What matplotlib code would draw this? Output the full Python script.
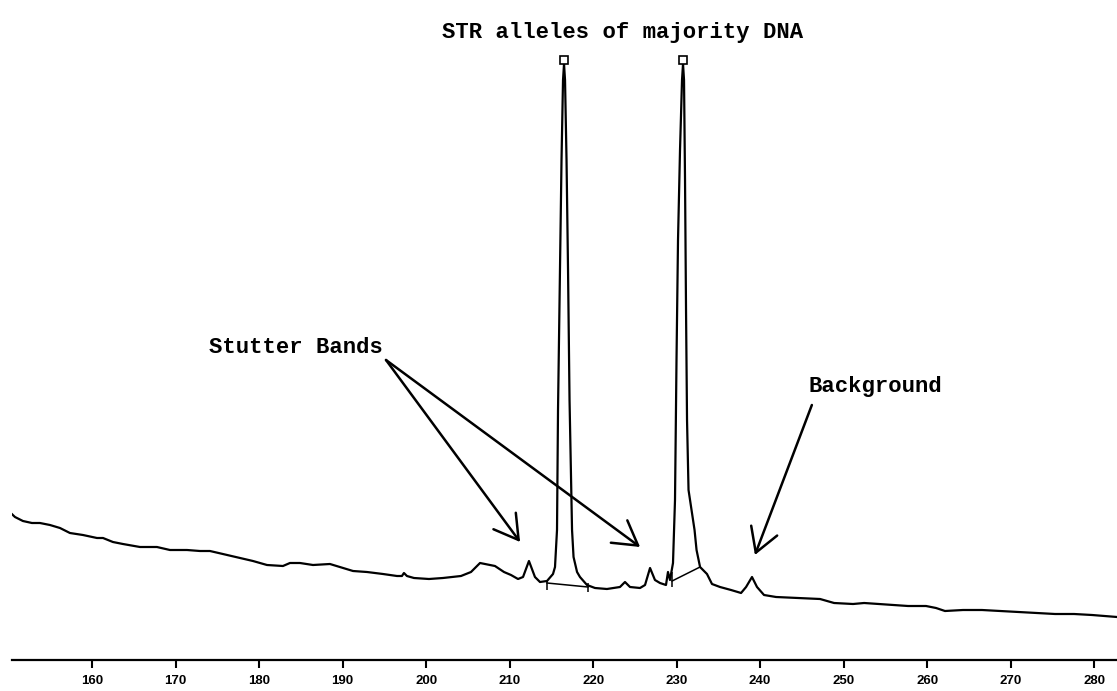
"""Electropherogram: STR alleles of majority DNA, with stutter and background marked."""

import matplotlib

matplotlib.use("Agg")
import matplotlib.pyplot as plt

# fragment size (bp) and signal (arbitrary units)
trace_bp = [
    150.39, 150.77, 151.72, 152.80, 153.76, 154.96, 156.16, 157.35, 158.91, 160.59,
    161.31, 162.50, 163.70, 165.74, 167.77, 169.33, 171.37, 172.92, 174.12, 175.68,
    177.72, 179.27, 180.95, 182.86, 183.70, 184.90, 186.46, 188.49, 189.69, 191.25,
    192.92, 194.84, 196.52, 197.11, 197.35, 197.71, 198.55, 200.35, 202.02, 204.18,
    205.38, 206.46, 208.25, 209.33, 210.17, 211.01, 211.61, 212.32, 213.04, 213.64,
    214.48, 215.20, 215.44, 215.68, 215.80, 216.04, 216.22, 216.40, 216.52, 216.64,
    216.82, 217.00, 217.18, 217.36, 217.48, 217.66, 218.08, 218.43, 219.27, 220.23,
    221.66, 223.22, 223.82, 224.42, 225.62, 226.22, 226.82, 227.41, 228.01, 228.73,
    228.97, 229.21, 229.57, 229.81, 229.99, 230.17, 230.41, 230.65, 230.77, 230.89,
    231.01, 231.13, 231.25, 231.43, 231.79, 232.15, 232.39, 232.81, 233.64, 234.24,
    235.20, 236.52, 237.72, 238.32, 239.03, 239.63, 240.47, 241.91, 244.54, 247.18,
    248.86, 251.13, 252.46, 254.24, 255.92, 257.72, 259.87, 261.07, 262.14, 264.30,
    266.57, 268.73, 270.89, 273.16, 275.32, 277.60, 279.75, 282.74,
]
trace_signal = [
    146, 143, 139, 137, 137, 135, 132, 127, 125, 122,
    122, 118, 116, 113, 113, 110, 110, 109, 109, 106,
    102, 99, 95, 94, 97, 97, 95, 96, 93, 89,
    88, 86, 84, 84, 87, 84, 82, 81, 82, 84,
    88, 97, 94, 88, 85, 81, 83, 99, 83, 78,
    79, 86, 93, 130, 250, 390, 500, 580, 596, 580,
    500, 390, 260, 180, 130, 103, 88, 83, 75, 72,
    71, 73, 78, 73, 72, 75, 92, 80, 77, 75,
    88, 80, 97, 160, 300, 420, 510, 580, 596, 580,
    480, 350, 240, 170, 150, 130, 110, 93, 86, 76,
    73, 70, 67, 73, 83, 73, 65, 63, 62, 61,
    57, 56, 57, 56, 55, 54, 54, 52, 49, 50,
    50, 49, 48, 47, 46, 46, 45, 43,
]

# called alleles (peak markers)
allele_bp = [216.52, 230.77]
allele_signal = [600, 600]

# peak baselines drawn by the analysis software
base1_bp = [214.48, 219.39]
base1_signal = [77, 73]
base2_bp = [229.46, 232.81]
base2_signal = [79, 93]
base_tick_bp = [214.48, 219.39, 229.46]
base_tick_lo = [70, 68, 73]
base_tick_hi = [80, 77, 88]

tick_values = [160, 170, 180, 190, 200, 210, 220, 230, 240, 250, 260, 270, 280]

fig = plt.figure(figsize=(11.17, 6.91), dpi=100)
ax = fig.add_axes([11.8 / 1117, 31 / 691, 1 - 11.8 / 1117, 660 / 691])

ax.plot(trace_bp, trace_signal, color="black", lw=1.6, solid_joinstyle="round")
ax.plot(base1_bp, base1_signal, color="black", lw=1.1)
ax.plot(base2_bp, base2_signal, color="black", lw=1.1)
ax.vlines(base_tick_bp, base_tick_lo, base_tick_hi, color="black", lw=1.1)
ax.plot(allele_bp, allele_signal, ls="none", marker="s", ms=5.5,
        mfc="white", mec="black", mew=1.2, clip_on=False)

ax.set_xlim(150.39, 282.74)
ax.set_ylim(0, 660)

for side in ["top", "right", "left"]:
    ax.spines[side].set_visible(False)
ax.spines["bottom"].set_linewidth(1.6)
ax.set_yticks([])
ax.set_xticks(tick_values)
ax.set_xticklabels([str(v) for v in tick_values], fontsize=9.5,
                   fontweight="bold", family="Liberation Sans")
ax.tick_params(axis="x", direction="out", length=6, width=1.5, pad=5)

mono = dict(family="Liberation Mono", fontweight="bold", fontsize=16)
fig.text(623 / 1117, 1 - 38 / 691, "STR alleles of majority DNA",
         ha="center", va="baseline", **mono)

arrow = dict(arrowstyle="->,head_length=0.85,head_width=0.5",
             mutation_scale=20, color="black", lw=1.8,
             shrinkA=0, shrinkB=0)

ax.text(184.4, 307, "Stutter Bands", ha="center", va="baseline", **mono)
ax.annotate("", xy=(211.26, 118), xytext=(195.2, 300), arrowprops=arrow)
ax.annotate("", xy=(225.63, 113), xytext=(195.2, 300), arrowprops=arrow)

ax.text(253.8, 268, "Background", ha="center", va="baseline", **mono)
ax.annotate("", xy=(239.38, 105), xytext=(246.2, 255), arrowprops=arrow)

fig.savefig("out.png", dpi=100)
